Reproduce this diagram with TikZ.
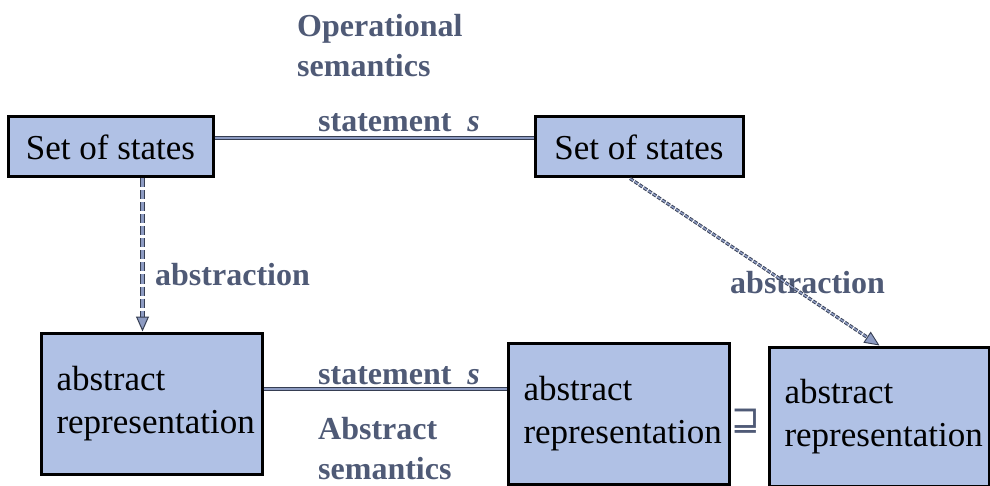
\documentclass[tikz,border=0pt]{standalone}
\usepackage{fontspec}
\setmainfont{Liberation Serif}
\newfontfamily\ordfont{DejaVu Sans}
\usetikzlibrary{positioning,arrows.meta}
\definecolor{semblue}{HTML}{B0C1E5}
\definecolor{semline}{HTML}{8D9BC2}
\definecolor{semdark}{HTML}{363E52}
\definecolor{semlabel}{HTML}{4F5A76}

\begin{document}
\begin{tikzpicture}[x=1pt,y=-1pt,
  box/.style={draw=black,line width=3pt,fill=semblue,font=\fontsize{35}{43}\selectfont},
  statebox/.style={box,inner sep=0pt,minimum width=205pt,minimum height=60pt},
  absbox/.style={box,inner xsep=15pt,inner ysep=0pt,text width=190pt,align=left,minimum width=221pt,minimum height=141pt},
  lbl/.style={inner sep=0pt,align=left,text=semlabel,font=\fontsize{32}{40}\selectfont\bfseries},
  conn/.style={draw=semdark,double=semline,line width=1pt,double distance=2.5pt},
  arr/.style={conn,-{Triangle[length=15pt,width=13pt,fill=semline]}}
]
\useasboundingbox (0,0) rectangle (990,486);

\node[statebox] (opa) at (110.5,147) {Set of states};
\node[statebox,minimum width=208pt] (opb) at (639,147) {Set of states};
\node[absbox] (absa) at (151.5,403.5) {abstract\\representation};
\node[absbox] (absb) at (618.5,413.5) {abstract\\representation};
\node[absbox,minimum width=217pt,minimum height=139pt] (absc) at (879.5,416.5) {abstract\\representation};

\node[lbl,anchor=base west] (opsem) at (297,77) {Operational\\semantics};
\node[lbl,anchor=base west] (stmtop) at (318,132) {statement \ \textit{s}};
\node[lbl,anchor=base west] (stmtabs) at (318,384) {statement \ \textit{s}};
\node[lbl,anchor=base west] (abssem) at (318,479) {Abstract\\semantics};
\node[lbl,anchor=base west] (absl) at (155,285) {abstraction};
\node[lbl,anchor=base west] (absr) at (730,293) {abstraction};
\node[text=semlabel,inner sep=0pt,font=\ordfont\fontsize{34}{34}\selectfont] (order) at (746,421) {⊒};

\draw[conn] ([yshift=9pt]opa.east) -- ([yshift=9pt]opb.west);
\draw[conn] ([yshift=14.5pt]absa.east) -- ([yshift=14.5pt]absa.east -| absb.west);
\draw[arr,dash pattern=on 9pt off 3pt,double distance=3pt] ([xshift=32pt]opa.south) -- ([xshift=32pt]opa.south |- absa.north);
\draw[arr,dash pattern=on 4pt off 1.5pt,double distance=1.5pt,line width=0.9pt] ([xshift=-9pt]opb.south) -- (absc.north);
\end{tikzpicture}
\end{document}
